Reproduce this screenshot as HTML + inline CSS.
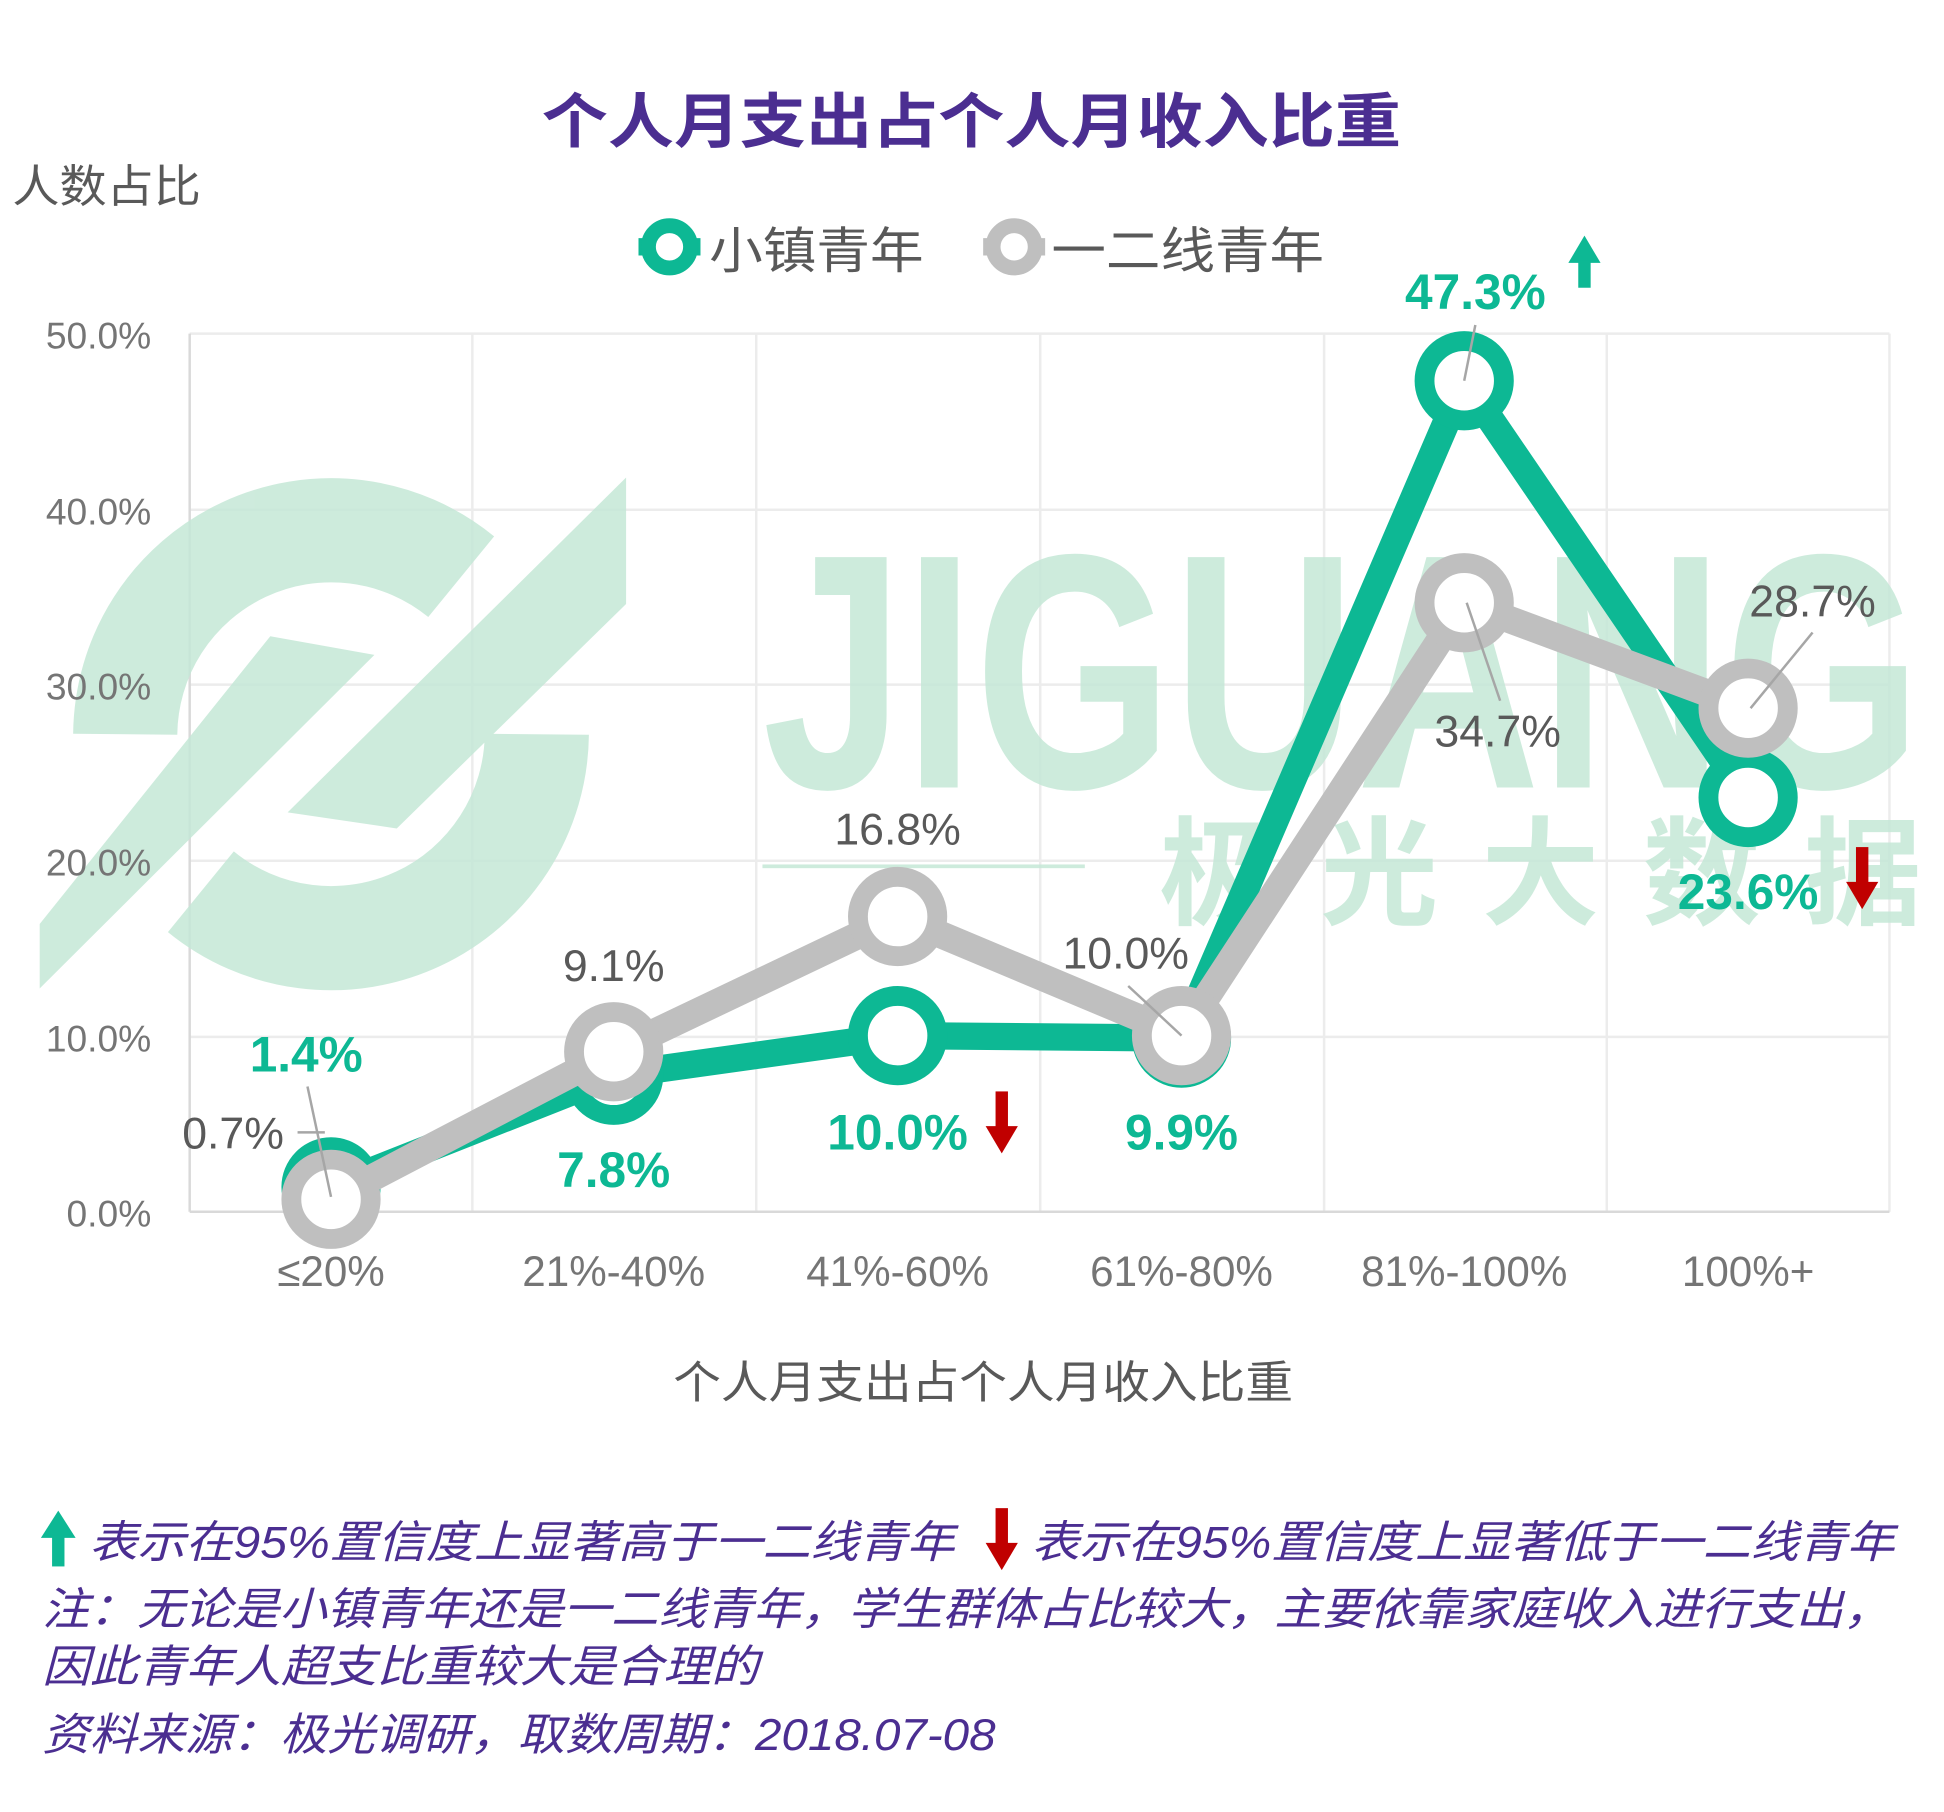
<!DOCTYPE html>
<html><head><meta charset="utf-8">
<style>html,body{margin:0;padding:0;background:#fff}svg{display:block}</style></head>
<body>
<svg width="1944" height="1812" viewBox="0 0 1568 1461" preserveAspectRatio="none" xmlns="http://www.w3.org/2000/svg" font-family="Liberation Sans, Noto Sans CJK SC, sans-serif">
<!-- grid -->
<g stroke="#ececec" stroke-width="2">
<line x1="153" y1="269" x2="1524" y2="269"/><line x1="153" y1="411" x2="1524" y2="411"/><line x1="153" y1="552" x2="1524" y2="552"/><line x1="153" y1="694" x2="1524" y2="694"/><line x1="153" y1="836" x2="1524" y2="836"/>
<line x1="381" y1="269" x2="381" y2="977"/><line x1="610" y1="269" x2="610" y2="977"/><line x1="839" y1="269" x2="839" y2="977"/><line x1="1068" y1="269" x2="1068" y2="977"/><line x1="1296" y1="269" x2="1296" y2="977"/><line x1="1524" y1="269" x2="1524" y2="977"/>
</g>
<line x1="153" y1="269" x2="153" y2="977" stroke="#d9d9d9" stroke-width="2"/>
<line x1="153" y1="977" x2="1524" y2="977" stroke="#d9d9d9" stroke-width="2"/>
<!-- watermark -->
<g fill="#c5e8d7" opacity="0.85">
<path d="M 101 592 A 166 166 0 0 1 372 465" fill="none" stroke="#c5e8d7" stroke-width="84"/>
<path d="M 433 592 A 166 166 0 0 1 162 719" fill="none" stroke="#c5e8d7" stroke-width="84"/>
<polygon points="32,797 32,745 218,513 302,528"/>
<polygon points="505,385 505,487 320,668 232,655"/>
<text x="615" y="635" font-size="270" font-weight="bold" textLength="935" lengthAdjust="spacingAndGlyphs">JIGUANG</text>
<text x="935" y="738" font-size="95" font-weight="bold" textLength="615" lengthAdjust="spacing">极 光 大 数 据</text>
<rect x="615" y="697" width="260" height="3"/>
</g>
<!-- titles -->
<text x="437" y="115" font-size="48" font-weight="bold" fill="#4b2e91" textLength="693" lengthAdjust="spacingAndGlyphs">个人月支出占个人月收入比重</text>
<text x="10" y="163" font-size="36" fill="#595959" textLength="152" lengthAdjust="spacingAndGlyphs">人数占比</text>
<!-- legend -->
<line x1="515" y1="199" x2="565" y2="199" stroke="#0db894" stroke-width="14"/>
<circle cx="540" cy="199" r="17" fill="#fff" stroke="#0db894" stroke-width="12"/>
<text x="572" y="216" font-size="40" fill="#595959" textLength="173" lengthAdjust="spacingAndGlyphs">小镇青年</text>
<line x1="793" y1="199" x2="843" y2="199" stroke="#bfbfbf" stroke-width="14"/>
<circle cx="818" cy="199" r="17" fill="#fff" stroke="#bfbfbf" stroke-width="12"/>
<text x="848" y="216" font-size="40" fill="#595959" textLength="220" lengthAdjust="spacingAndGlyphs">一二线青年</text>
<!-- y labels -->
<g font-size="30" fill="#757575" text-anchor="end">
<text x="122" y="281">50.0%</text><text x="122" y="423">40.0%</text><text x="122" y="564">30.0%</text><text x="122" y="706">20.0%</text><text x="122" y="848">10.0%</text><text x="122" y="989">0.0%</text>
</g>
<!-- x labels -->
<g font-size="34" fill="#757575" text-anchor="middle">
<text x="267" y="1037">≤20%</text><text x="495" y="1037">21%-40%</text><text x="724" y="1037">41%-60%</text><text x="953" y="1037">61%-80%</text><text x="1181" y="1037">81%-100%</text><text x="1410" y="1037">100%+</text>
</g>
<text x="543" y="1127" font-size="36" fill="#595959" textLength="500" lengthAdjust="spacingAndGlyphs">个人月支出占个人月收入比重</text>
<!-- green series -->
<polyline points="267,957 495,867 724,835 953,837 1181,307 1410,643" fill="none" stroke="#0db894" stroke-width="22" stroke-linejoin="round"/>
<g fill="#fff" stroke="#0db894" stroke-width="16">
<circle cx="267" cy="957" r="32"/><circle cx="495" cy="867" r="32"/><circle cx="724" cy="835" r="32"/><circle cx="953" cy="837" r="32"/><circle cx="1181" cy="307" r="32"/><circle cx="1410" cy="643" r="32"/>
</g>
<!-- gray series -->
<polyline points="267,967 495,848 724,739 953,835 1181,486 1410,571" fill="none" stroke="#bfbfbf" stroke-width="22" stroke-linejoin="round"/>
<g fill="#fff" stroke="#bfbfbf" stroke-width="16">
<circle cx="267" cy="967" r="32"/><circle cx="495" cy="848" r="32"/><circle cx="724" cy="739" r="32"/><circle cx="953" cy="835" r="32"/><circle cx="1181" cy="486" r="32"/><circle cx="1410" cy="571" r="32"/>
</g>
<!-- leader lines -->
<g stroke="#a6a6a6" stroke-width="2">
<line x1="248" y1="876" x2="267" y2="965"/><line x1="240" y1="913" x2="262" y2="913"/>
<line x1="910" y1="795" x2="953" y2="835"/>
<line x1="1190" y1="262" x2="1181" y2="307"/>
<line x1="1210" y1="565" x2="1183" y2="486"/>
<line x1="1462" y1="510" x2="1412" y2="571"/>
</g>
<!-- green labels -->
<g font-size="40" font-weight="bold" fill="#0db894" text-anchor="middle">
<text x="247" y="864">1.4%</text><text x="495" y="957">7.8%</text><text x="724" y="927">10.0%</text><text x="953" y="927">9.9%</text><text x="1190" y="249">47.3%</text><text x="1410" y="733">23.6%</text>
</g>
<!-- gray labels -->
<g font-size="36" fill="#595959" text-anchor="middle">
<text x="188" y="926">0.7%</text><text x="495" y="791">9.1%</text><text x="724" y="681">16.8%</text><text x="908" y="781">10.0%</text><text x="1208" y="602">34.7%</text><text x="1462" y="497">28.7%</text>
</g>
<!-- arrows -->
<g fill="#c00000">
<rect x="803" y="880" width="10" height="30"/><polygon points="795,908 821,908 808,930"/>
<rect x="1497" y="683" width="10" height="30"/><polygon points="1489,711 1515,711 1502,733"/>
<rect x="803" y="1216" width="10" height="30"/><polygon points="795,1244 821,1244 808,1266"/>
</g>
<g fill="#0db894">
<polygon points="1265,212 1291,212 1278,190"/><rect x="1273" y="210" width="10" height="22"/>
<polygon points="33,1240 61,1240 47,1218"/><rect x="42" y="1238" width="10" height="25"/>
</g>
<!-- footer -->
<g font-size="36" font-style="italic" fill="#4b2e91">
<text x="72" y="1256" textLength="698" lengthAdjust="spacingAndGlyphs">表示在95%置信度上显著高于一二线青年</text>
<text x="832" y="1256" textLength="696" lengthAdjust="spacingAndGlyphs">表示在95%置信度上显著低于一二线青年</text>
<text x="34" y="1310" textLength="1491" lengthAdjust="spacingAndGlyphs">注：无论是小镇青年还是一二线青年，学生群体占比较大，主要依靠家庭收入进行支出，</text>
<text x="34" y="1356" textLength="578" lengthAdjust="spacingAndGlyphs">因此青年人超支比重较大是合理的</text>
<text x="34" y="1411" textLength="769" lengthAdjust="spacingAndGlyphs">资料来源：极光调研，取数周期：2018.07-08</text>
</g>
</svg>
</body></html>
